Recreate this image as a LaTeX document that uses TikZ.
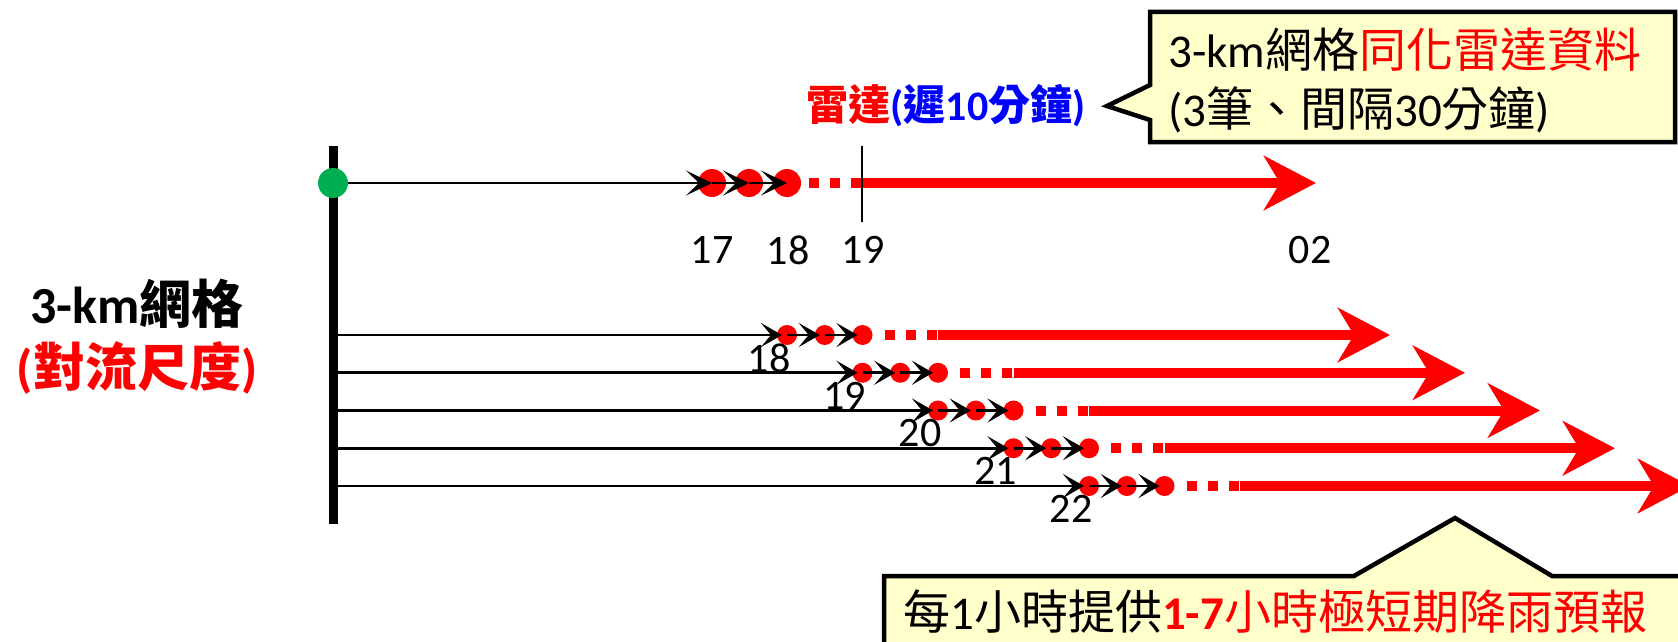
\documentclass[tikz,border=0pt]{standalone}
\usepackage{fontspec}
\setmainfont{Carlito}
\newfontfamily\cjk{Noto Sans CJK TC}
\usetikzlibrary{arrows.meta}
\definecolor{myred}{HTML}{FF0000}
\definecolor{mygreen}{HTML}{00B050}
\definecolor{myblue}{HTML}{0000FF}
\definecolor{bubble}{HTML}{FFFFCC}
\begin{document}
\begin{tikzpicture}[x=1pt,y=-1pt,
  reddot/.style={circle,fill=myred,inner sep=0pt,minimum size=#1},
  blkarr/.style={draw=black,line width=2.5pt,-{Stealth[length=26pt,width=25pt,inset=13pt]}},
  blkarrs/.style={draw=black,line width=2.8pt,shorten >=5pt,-{Stealth[length=21pt,width=24pt,inset=10pt]}},
  redline/.style={draw=myred,line width=10pt},
  reddash/.style={redline,dash pattern=on 10pt off 11pt},
  redarr/.style={redline,-{Stealth[length=52pt,width=54pt,inset=16pt]}},
  lbl/.style={font=\fontsize{42}{50}\selectfont,inner sep=0pt},
  callout/.style={draw=black,line width=4.5pt,fill=bubble,line join=miter},
  btxt/.style={font=\fontsize{47}{60}\selectfont,inner sep=0pt,anchor=west},
  lefttxt/.style={font=\fontsize{52}{60}\selectfont\bfseries,inner sep=0pt},
]
\useasboundingbox (0,0) rectangle (1678,642);
\clip (0,0) rectangle (1678,642);

% vertical bar
\coordinate (bt) at (333,146);
\coordinate (bb) at (333,524);
\draw[line width=9pt] (bt) -- (bb);

% top row
\foreach \i/\x in {1/712,2/749,3/787} \node[reddot=28pt] (t\i) at (\x,183) {};
\coordinate (tdash) at (809,183);
\coordinate (tick) at (862,183);
\coordinate (ticktop) at (862,146);
\coordinate (tickbot) at (862,222);
\coordinate (ttip) at (1316,183);
\draw[reddash] (tdash) -- (tick);
\draw[redarr] (tick) -- (ttip);
\draw[line width=2.5pt] (ticktop) -- (tickbot);
\node[circle,fill=mygreen,minimum size=30pt,inner sep=0pt] (g) at (333,183) {};
\draw[blkarr] (g) -- (t1.center);
\draw[blkarr] (t1.center) -- (t2.center);
\draw[blkarr] (t2.center) -- (t3.center);
\node[lbl] (l17) at (712,250) {17};
\node[lbl] (l18) at (788,250) {18};
\node[lbl] (l19) at (863,250) {19};
\node[lbl] (l02) at (1310,250) {02};

% lower rows
\foreach \k in {0,...,4} {
  \pgfmathsetmacro\y{335+37.75*\k}
  \pgfmathsetmacro\x{787+75.5*\k}
  \pgfmathtruncatemacro\lab{18+\k}
  \coordinate (s\k) at (333,\y);
  \node[reddot=20pt] (a\k) at (\x,\y) {};
  \node[reddot=20pt] (b\k) at (\x+37.75,\y) {};
  \node[reddot=20pt] (c\k) at (\x+75.5,\y) {};
  \coordinate (d\k) at (\x+97.5,\y);
  \coordinate (e\k) at (\x+151,\y);
  \coordinate (f\k) at (1390+75*\k,\y);
  \draw[reddash] (d\k) -- (e\k);
  \draw[redarr] (e\k) -- (f\k);
  \draw[blkarrs] (s\k) -- (a\k.center);
  \draw[blkarrs] (a\k.center) -- (b\k.center);
  \draw[blkarrs] (b\k.center) -- (c\k.center);
  \node[lbl] (r\k) at (\x-18,\y+23) {\lab};
}

% left label
\node[lefttxt] (grid) at (137,304) {3-km{\cjk 網格}};
\node[lefttxt,text=myred] (scale) at (137,368) {({\cjk 對流尺度})};

% radar label
\node[font=\fontsize{42}{50}\selectfont\bfseries,inner sep=0pt] (radar) at (946,106)
  {\textcolor{myred}{\cjk 雷達}\textcolor{myblue}{({\cjk 遲}10{\cjk 分鐘})}};

% top callout
\draw[callout] (1150,12) -- (1675,12) -- (1675,142) -- (1150,142) -- (1150,120) -- (1107,106) -- (1150,85) -- cycle;
\node[btxt] (c1) at (1168,50) {3-km{\cjk 網格}\textcolor{myred}{\cjk 同化雷達資料}};
\node[btxt] (c2) at (1168,110) {(3{\cjk 筆、間隔}30{\cjk 分鐘})};

% bottom callout
\draw[callout] (884,670) -- (884,576) -- (1354,576) -- (1455,518) -- (1552,576) -- (1710,576) -- (1710,670) -- cycle;
\node[btxt] (c3) at (903,612) {{\cjk 每}1{\cjk 小時提供}\textcolor{myred}{\textbf{1-7}{\cjk 小時極短期降雨預報}}};
\end{tikzpicture}
\end{document}
